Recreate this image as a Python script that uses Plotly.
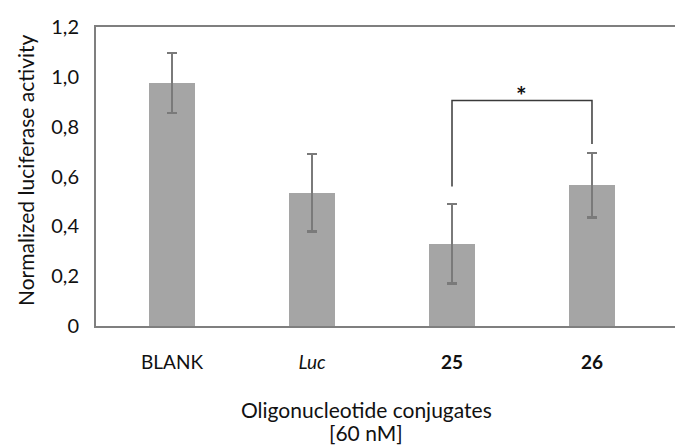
import plotly.graph_objects as go

categories = ["BLANK", "Luc", "25", "26"]
tick_text = ["BLANK", "<i>Luc</i>", "<b>25</b>", "<b>26</b>"]
values = [0.975, 0.535, 0.33, 0.565]
errors = [0.12, 0.155, 0.16, 0.13]
y_ticks = [0, 0.2, 0.4, 0.6, 0.8, 1.0, 1.2]
y_tick_text = ["0", "0,2", "0,4", "0,6", "0,8", "1,0", "1,2"]
bracket_x = [2, 2, 3, 3]
bracket_y = [0.56, 0.905, 0.905, 0.73]
sig_label = "*"
x_title_lines = ["Oligonucleotide conjugates", "[60 nM]"]
y_title = "Normalized luciferase activity"

FONT = "Lato, 'Open Sans', sans-serif"
xpos = list(range(len(categories)))

fig = go.Figure()
fig.add_trace(go.Bar(
    x=xpos, y=values, width=0.33,
    marker=dict(color="#a5a5a5", line=dict(width=0)),
    error_y=dict(type="data", array=errors, visible=True,
                 color="#7a7a7a", thickness=2.5, width=5),
    showlegend=False,
))
fig.add_trace(go.Scatter(
    x=bracket_x, y=bracket_y, mode="lines",
    line=dict(color="#3a3a3a", width=1.5), showlegend=False,
))
fig.add_annotation(x=(bracket_x[1] + bracket_x[2]) / 2, y=bracket_y[1],
                   text="<b>" + sig_label + "</b>", showarrow=False,
                   yanchor="bottom", yshift=-11,
                   font=dict(family=FONT, size=25, color="#111"))

L, R, T, B = 96, 0, 27, 121
W, H = 675, 447
pw = W - L - R
ph = H - T - B
axis_y = T + ph


def py(px):
    return -(px - axis_y) / ph


fig.update_layout(
    width=W, height=H,
    margin=dict(l=L, r=R, t=T, b=B, autoexpand=False),
    paper_bgcolor="white", plot_bgcolor="white",
    font=dict(family=FONT, size=16, color="#111"),
    bargap=0,
    xaxis=dict(
        range=[-0.543, 3.593], tickvals=xpos, ticktext=tick_text,
        showline=True, linecolor="#7f7f7f", linewidth=2, mirror=True,
        showgrid=False, zeroline=False, ticks="", ticklabelstandoff=18,
        tickfont=dict(family=FONT, size=19, color="#111"),
    ),
    yaxis=dict(
        range=[0, 1.2], tickvals=y_ticks, ticktext=y_tick_text,
        showline=True, linecolor="#7f7f7f", linewidth=2,
        showgrid=False, zeroline=False, ticks="", ticklabelstandoff=11,
        tickfont=dict(family=FONT, size=20, color="#111"),
    ),
)

fig.add_annotation(xref="paper", yref="paper",
                   x=(25 - L) / pw, y=py(170), text=y_title,
                   textangle=-90, showarrow=False, xanchor="center", yanchor="middle",
                   font=dict(family=FONT, size=21, color="#111"))
for line, ypx in zip(x_title_lines, [409, 432]):
    fig.add_annotation(xref="paper", yref="paper",
                       x=(366 - L) / pw, y=py(ypx), text=line,
                       showarrow=False, xanchor="center", yanchor="middle",
                       font=dict(family=FONT, size=21, color="#111"))

fig.write_html(
    "out.html",
    config={"displayModeBar": False, "staticPlot": True},
    post_script="document.body.style.margin='0';document.body.style.padding='0';"
                "document.body.style.overflow='hidden';",
)
